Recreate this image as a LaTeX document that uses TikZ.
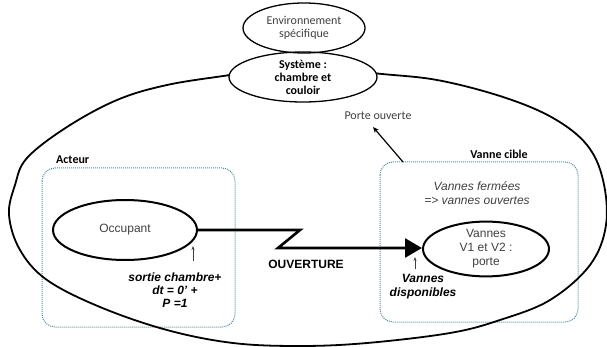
\documentclass[tikz,border=0pt]{standalone}
\usepackage{fontspec}
\setmainfont{Liberation Sans}
\newfontfamily\calfont{Carlito}
\usetikzlibrary{shapes.geometric,arrows.meta}
\definecolor{dotcol}{RGB}{84,140,160}
\definecolor{txtgray}{RGB}{64,64,64}
\begin{document}
\begin{tikzpicture}[x=1pt,y=-1pt,
  caltext/.style={font=\calfont\fontsize{12}{13}\selectfont, align=center, inner sep=0pt},
  aritext/.style={font=\fontsize{12}{14}\selectfont, align=center, inner sep=0pt},
  ell/.style={ellipse, draw, line width=1.3pt, inner sep=0pt},
  thickell/.style={ellipse, draw, line width=2pt, inner sep=0pt},
  zone/.style={draw=dotcol, densely dotted, line width=1pt, rounded corners=13pt},
  smallarrow/.style={draw=black!75, line width=0.6pt, -{Stealth[length=4pt,width=3pt]}},
  bigline/.style={line width=2.6pt, -{Triangle[length=17pt,width=19pt]}}
]
\useasboundingbox (0,0) rectangle (607,347);

% dotted zones
\draw[zone] (42,168) rectangle (235,327);
\draw[zone] (380,162) rectangle (578,322);

% big outer shape
\draw[line width=1.8pt] plot[smooth cycle, tension=0.6] coordinates {
 (306,64) (373,73) (437,80) (503,97) (553,118) (587,145) (603,180) (606,225)
 (590,265) (550,300) (500,320) (450,333) (367,343) (300,346) (233,343)
 (167,330) (100,307) (47,280) (20,250) (9,215) (15,185) (27,158) (67,127)
 (117,100) (167,85) (230,75)};

% top ellipses
\node[ell, fill=white, minimum width=148pt, minimum height=50pt, caltext, font=\calfont\bfseries\fontsize{12}{13}\selectfont] (sys) at (303,77) {Système :\\chambre et\\couloir};
\node[ell, minimum width=122pt, minimum height=50pt, caltext, text=txtgray] (env) at (304,28) {Environnement\\spécifique};

% labels of zones
\node[caltext, font=\calfont\bfseries\fontsize{12}{13}\selectfont, anchor=west] (acteur) at (56,160) {Acteur};
\node[caltext, font=\calfont\bfseries\fontsize{12}{13}\selectfont] (vcible) at (499,154) {Vanne cible};
\node[caltext, text=txtgray] (porte) at (378,116) {Porte ouverte};

% main ellipses
\node[thickell, minimum width=144pt, minimum height=60pt, aritext, text=txtgray] (occ) at (125,230) {Occupant};
\node[thickell, minimum width=126pt, minimum height=50pt, aritext, text=txtgray] (van) at (486,249) {Vannes\\V1 et V2 :\\porte};

% texts
\node[aritext, font=\itshape\fontsize{12}{14}\selectfont, text=txtgray] (ferm) at (477,193) {Vannes fermées\\=> vannes ouvertes};
\node[aritext, font=\bfseries\fontsize{12}{14}\selectfont] (ouv) at (306,264) {OUVERTURE};
\node[aritext, font=\bfseries\itshape\fontsize{12}{13.3}\selectfont] (sortie) at (175,290) {sortie chambre+\\dt = 0' +\\P =1};
\node[aritext, font=\bfseries\itshape\fontsize{12}{14}\selectfont] (dispo) at (423,287) {Vannes\\disponibles};

% connector
\coordinate (z1) at (300,230);
\coordinate (z2) at (278,248);
\draw[bigline] (occ.east) -- (z1) -- (z2) -- (z2 -| van.west);

% small arrows
\coordinate (sa1) at (193,261);
\coordinate (sa2) at (193,246);
\draw[smallarrow] (sa1) -- (sa2);
\coordinate (sb1) at (415,269);
\coordinate (sb2) at (415,257);
\draw[smallarrow] (sb1) -- (sb2);

% porte ouverte arrow
\coordinate (pcorner) at (403,162);
\coordinate (ptip) at (373,127);
\draw[line width=1.2pt, -{Stealth[length=6pt,width=5pt]}] (pcorner) -- (ptip);
\end{tikzpicture}
\end{document}
